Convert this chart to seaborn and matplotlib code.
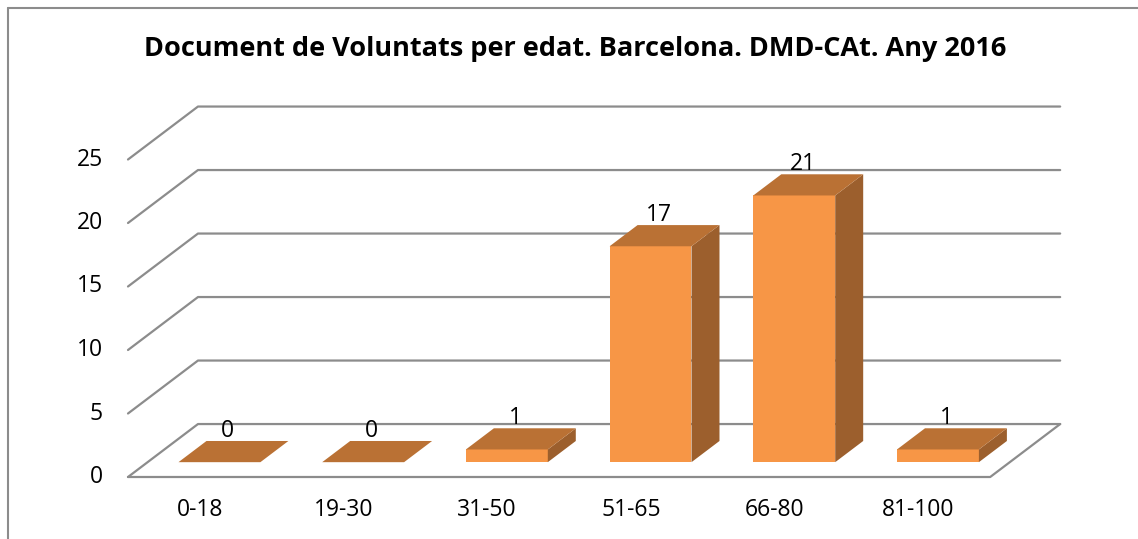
import matplotlib
matplotlib.use("Agg")
import matplotlib.pyplot as plt
import matplotlib.transforms as mtransforms
from matplotlib.patches import Polygon
from matplotlib.lines import Line2D
import seaborn as sns

categories = ["0-18", "19-30", "31-50", "51-65", "66-80", "81-100"]
counts = [0, 0, 1, 17, 21, 1]
y_ticks = [0, 5, 10, 15, 20, 25]
title = "Document de Voluntats per edat. Barcelona. DMD-CAt. Any 2016"

front_col = "#F79646"
top_col = "#BA7134"
side_col = "#9C5F2D"
grid_col = "#8C8C8C"

# oblique "3d" look: full floor depth in data units
depth_x, depth_y = 0.487, 4.17
bar_pos = 0.28     # where the bar fronts sit inside the depth
bar_depth = 0.40

sns.set_theme(style="white")
plt.rcParams["font.family"] = ["Open Sans", "DejaVu Sans"]
plt.rcParams["text.color"] = "black"

W, H = 1138, 539
fig = plt.figure(figsize=(W / 100, H / 100), dpi=100)
ax = fig.add_axes([0, 0, 1, 1])

n = len(categories)
x0, x1 = -0.5, n - 0.5

# side wall + back wall gridlines
for t in y_ticks:
    ax.plot([x0, x0 + depth_x, x1 + depth_x], [t, t + depth_y, t + depth_y],
            color=grid_col, lw=1.6, zorder=1)
    ax.text(x0 - 0.174, t, str(t), ha="right", va="center", fontsize=16.5)
# front edge of the floor
ax.plot([x0, x1, x1 + depth_x], [0, 0, depth_y], color=grid_col, lw=1.6, zorder=1)

sns.barplot(x=categories, y=counts, color=front_col, saturation=1, width=0.57, ax=ax)

shift = mtransforms.Affine2D().translate(bar_pos * depth_x, bar_pos * depth_y) + ax.transData
bdx, bdy = bar_depth * depth_x, bar_depth * depth_y

for p, v in zip(list(ax.patches), counts):
    p.set_transform(shift)
    p.set_edgecolor("none")
    p.set_zorder(3)
    x, w, h = p.get_x(), p.get_width(), p.get_height()
    top = [(x, h), (x + w, h), (x + w + bdx, h + bdy), (x + bdx, h + bdy)]
    side = [(x + w, 0), (x + w + bdx, bdy), (x + w + bdx, h + bdy), (x + w, h)]
    ax.add_patch(Polygon(side, closed=True, fc=side_col, ec="none", transform=shift, zorder=3))
    ax.add_patch(Polygon(top, closed=True, fc=top_col, ec="none", transform=shift, zorder=4))
    ax.text(x + w / 2 + bdx * 0.3, h + bdy + 0.3, str(v), transform=shift,
            ha="center", va="baseline", fontsize=16.5, zorder=5)

for i, c in enumerate(categories):
    ax.text(i, -2.6, c, ha="center", va="center", fontsize=16.5)

ax.set_xlim((0 - 128) / 143.7 - 0.5, (W - 128) / 143.7 - 0.5)
ax.set_ylim((477 - H) / 12.7, 477 / 12.7)
ax.axis("off")

fig.text(575 / W, 1 - 49 / H, title, ha="center", va="center",
         fontsize=19.5, fontweight="bold")

fig.add_artist(Line2D([8 / W, 8 / W], [0, 1 - 8 / H], color="#8C8C8C", lw=1.5))
fig.add_artist(Line2D([8 / W, 1], [1 - 8 / H, 1 - 8 / H], color="#8C8C8C", lw=1.5))

fig.savefig("out.png", dpi=100)
